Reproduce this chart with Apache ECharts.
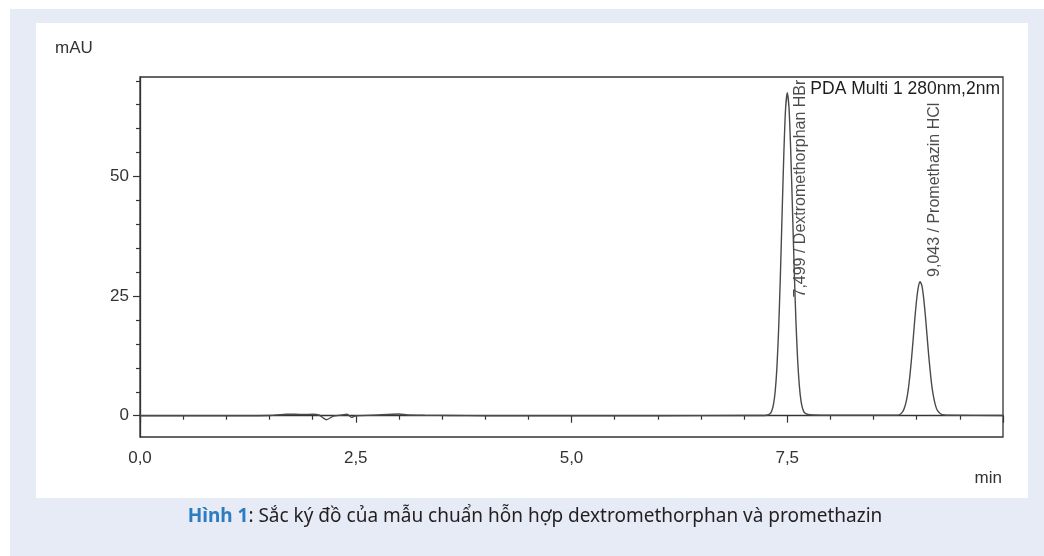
<!DOCTYPE html>
<html>
<head>
<meta charset="utf-8">
<title>Sắc ký đồ dextromethorphan và promethazin</title>
<script src="https://cdn.jsdelivr.net/npm/echarts@6/dist/echarts.min.js"></script>
<style>
  html, body { margin: 0; padding: 0; background: #fff; }
  #chart { width: 1044px; height: 556px; }
</style>
</head>
<body>
<div id="chart"></div>
<script>
// thời gian lưu (phút) và tín hiệu (mAU)
const timeMin = [
  0, 0.5, 1.0, 1.5, 1.7, 1.8, 1.9, 2.0, 2.08, 2.16, 2.24, 2.32, 2.40, 2.45, 2.5, 2.7, 3.0, 3.1, 3.3, 3.6, 4.0, 5.0, 6.0, 7.0,
  7.20, 7.26, 7.30, 7.32, 7.34, 7.36, 7.38, 7.40, 7.42, 7.44, 7.46, 7.48, 7.50, 7.52, 7.54, 7.56, 7.58, 7.60, 7.62, 7.64, 7.66, 7.68, 7.70, 7.74, 7.80, 8.0, 8.4,
  8.76, 8.80, 8.84, 8.86, 8.88, 8.90, 8.92, 8.94, 8.96, 8.98, 9.00, 9.02, 9.04, 9.06, 9.08, 9.10, 9.12, 9.14, 9.16, 9.18, 9.20, 9.22, 9.24, 9.28, 9.32, 9.40, 10.0
];
const signalMAU = [
  0, 0, 0, 0.05, 0.3, 0.3, 0.25, 0.3, 0.1, -0.85, -0.1, 0.1, 0.3, -0.35, 0, 0.1, 0.35, 0.15, 0.1, 0.05, 0, 0, 0, 0.05,
  0.05, 0.1, 0.4, 1.0, 2.3, 5.0, 10.0, 18.0, 29.0, 42.0, 54.5, 64.0, 67.5, 64.5, 55.5, 43.5, 31.0, 20.0, 11.8, 6.3, 3.0, 1.4, 0.6, 0.25, 0.15, 0.1, 0.1,
  0.1, 0.2, 0.9, 1.75, 3.1, 5.2, 8.2, 11.9, 16.2, 20.6, 24.4, 27.0, 28.0, 27.2, 24.7, 21.0, 16.7, 12.4, 8.7, 5.6, 3.5, 2.0, 1.1, 0.35, 0.15, 0.1, 0.05
];
const retentionTimes = [7.499, 9.043];
const compoundNames = ['Dextromethorphan HBr', 'Promethazin HCl'];
const yTicks = [0, 25, 50];
const yMinorTicks = [5, 10, 15, 20, 30, 35, 40, 45, 55, 60, 65, 70];

const FONT = '"Liberation Sans", Arial, sans-serif';
const INK = '#333';

let myChart = echarts.init(document.getElementById('chart'));

// nhãn đỉnh: chân nhãn (mAU), nhãn đầu bị hạ xuống cho vừa khung
let labelBottom = [24.6, 28.9];
let peakLabels = retentionTimes.map(function (t, i) {
  return [t + 0.165, labelBottom[i], t.toFixed(3).replace('.', ',') + ' / ' + compoundNames[i]];
});

let option = {
  animation: false,
  textStyle: { fontFamily: FONT },
  grid: {
    left: 140, right: 41, top: 77, bottom: 119,
    show: true, borderColor: INK, borderWidth: 1.3, backgroundColor: 'transparent'
  },
  xAxis: {
    type: 'value',
    min: 0, max: 10, interval: 2.5,
    axisLine: { lineStyle: { color: INK, width: 1.3 } },
    axisTick: { show: true, inside: false, length: 7, lineStyle: { color: INK, width: 1.2 } },
    minorTick: { show: true, splitNumber: 5, length: 4, lineStyle: { color: INK, width: 1.2 } },
    splitLine: { show: false },
    axisLabel: {
      showMaxLabel: false, margin: 13, color: INK, fontSize: 17, fontFamily: FONT,
      formatter: function (v) { return v.toFixed(1).replace('.', ','); }
    }
  },
  yAxis: [
    {
      type: 'value',
      min: -4.45, max: 70.8,
      axisLine: { show: true, lineStyle: { color: INK, width: 1.3 } },
      axisTick: { show: true, length: 7, customValues: yTicks, lineStyle: { color: INK, width: 1.2 } },
      splitLine: { show: false },
      axisLabel: { customValues: yTicks, margin: 11, color: INK, fontSize: 17, fontFamily: FONT }
    },
    {
      type: 'value',
      min: -4.45, max: 70.8,
      position: 'left',
      axisLine: { show: false },
      axisTick: { show: true, length: 4, customValues: yMinorTicks, lineStyle: { color: INK, width: 1.2 } },
      splitLine: { show: false },
      axisLabel: { show: false }
    }
  ],
  series: [
    {
      name: 'PDA Multi 1 280nm,2nm',
      type: 'line',
      showSymbol: false,
      smooth: 0.2,
      lineStyle: { color: '#4a4a4a', width: 1.4 },
      data: timeMin.map(function (t, i) { return [t, signalMAU[i]]; })
    },
    {
      name: 'peak labels',
      type: 'scatter',
      symbolSize: 1,
      itemStyle: { color: 'transparent' },
      label: {
        show: true,
        position: [0, 0],
        rotate: 90,
        align: 'left',
        verticalAlign: 'middle',
        color: '#1e1e1e',
        fontSize: 16,
        fontFamily: FONT,
        formatter: function (p) { return p.value[2]; }
      },
      data: peakLabels
    }
  ],
  graphic: [
    { type: 'rect', z: -20, shape: { x: 10, y: 9, width: 1034, height: 547 }, style: { fill: '#e7ebf6' } },
    { type: 'rect', z: -19, shape: { x: 36, y: 23, width: 992, height: 475 }, style: { fill: '#fff' } },
    { type: 'text', z: 10, x: 55, y: 48, style: { text: 'mAU', fill: INK, font: '17px ' + FONT, verticalAlign: 'middle' } },
    { type: 'text', z: 10, x: 1002, y: 478, style: { text: 'min', fill: INK, font: '17px ' + FONT, align: 'right', verticalAlign: 'middle' } },
    { type: 'text', z: 10, x: 1000, y: 89, style: { text: 'PDA Multi 1 280nm,2nm', fill: '#1e1e1e', font: '17.5px ' + FONT, align: 'right', verticalAlign: 'middle' } },
    {
      type: 'text', z: 10, x: 535, y: 517,
      style: {
        text: '{a|Hình 1}{b|: Sắc ký đồ của mẫu chuẩn hỗn hợp dextromethorphan và promethazin}',
        align: 'center', verticalAlign: 'middle',
        rich: {
          a: { fontFamily: '"Noto Sans"', fontSize: 19, fontWeight: 'bold', fill: '#2e7bbf' },
          b: { fontFamily: '"Noto Sans"', fontSize: 19, fill: '#231f20' }
        }
      }
    }
  ]
};

myChart.setOption(option);
</script>
</body>
</html>
